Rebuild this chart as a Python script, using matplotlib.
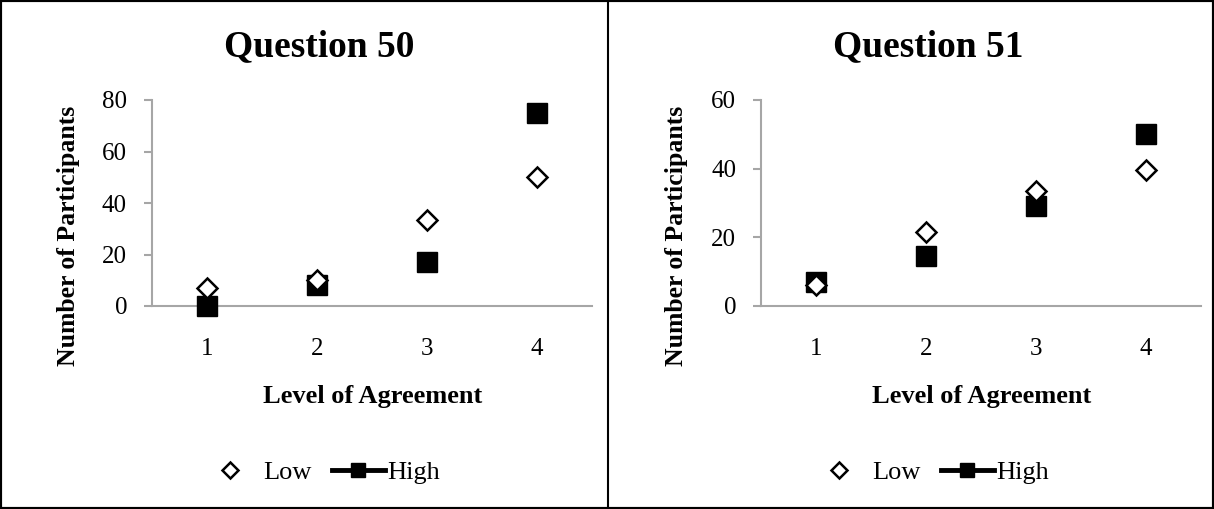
import matplotlib
matplotlib.use("Agg")
import matplotlib.pyplot as plt
from matplotlib.lines import Line2D
from matplotlib.patches import Rectangle

plt.rcParams['font.family'] = ['Liberation Serif', 'DejaVu Serif']

categories = [1, 2, 3, 4]
titles = ["Question 50", "Question 51"]
q50_low = [7, 10, 33.5, 50]
q50_high = [0, 8, 17, 75]
q51_low = [6, 21.5, 33.5, 39.5]
q51_high = [7, 14.5, 29, 50]
y_ticks_50 = [0, 20, 40, 60, 80]
y_ticks_51 = [0, 20, 40, 60]
xlabel = "Level of Agreement"
ylabel = "Number of Participants"
series_names = ["Low", "High"]

W, H = 1214, 509
fig = plt.figure(figsize=(W / 100, H / 100), dpi=100)

gray = '#A6A6A6'

def fx(px):
    return px / W

def fy(py):
    return 1 - py / H

def make_panel(off, title, low, high, yticks):
    left_px = 152 + off
    ax = fig.add_axes([fx(left_px), fy(306), 440 / W, 206 / H])
    ax.plot(categories, low, linestyle='none', marker='D', markersize=10,
            markerfacecolor='white', markeredgecolor='black', markeredgewidth=1.8,
            zorder=5, clip_on=False)
    ax.plot(categories, high, linestyle='none', marker='s', markersize=14,
            markerfacecolor='black', markeredgecolor='black', zorder=4,
            clip_on=False)
    ax.set_xlim(0.5, 4.5)
    ax.set_ylim(yticks[0], yticks[-1])
    ax.set_yticks(yticks)
    ax.set_xticks(categories)
    ax.set_xticklabels([str(c) for c in categories])
    for s in ['top', 'right']:
        ax.spines[s].set_visible(False)
    for s in ['left', 'bottom']:
        ax.spines[s].set_color(gray)
        ax.spines[s].set_linewidth(1.5)
        ax.spines[s].set_zorder(1)
    ax.tick_params(axis='y', direction='out', length=6, width=1.5, color=gray,
                   labelsize=18, pad=12)
    ax.tick_params(axis='x', length=0, labelsize=18, pad=23)
    ax.patch.set_visible(False)
    fig.text(fx(372.5 + off), fy(397), xlabel, fontsize=19, fontweight='bold',
             ha='center', va='center')
    fig.text(fx(68 + off), fy(235.5), ylabel, fontsize=18.5, fontweight='bold',
             ha='center', va='center', rotation=90)
    fig.text(fx(319 + off), fy(47), title, fontsize=27, fontweight='bold',
             ha='center', va='center')
    h_low = Line2D([], [], linestyle='none', marker='D', markersize=8,
                   markerfacecolor='white', markeredgecolor='black',
                   markeredgewidth=1.8)
    h_high = Line2D([], [], color='black', linewidth=3.5, marker='s',
                    markersize=10, markerfacecolor='black')
    fig.legend([h_low], [series_names[0]], loc='center left',
               bbox_to_anchor=(fx(203.5 + off), fy(472)), frameon=False,
               fontsize=19, handlelength=2.0, handletextpad=0.25,
               borderpad=0, borderaxespad=0)
    fig.legend([h_high], [series_names[1]], loc='center left',
               bbox_to_anchor=(fx(332 + off), fy(472)), frameon=False,
               fontsize=19, handlelength=2.0, handletextpad=0.08,
               borderpad=0, borderaxespad=0)
    return ax

make_panel(0, titles[0], q50_low, q50_high, y_ticks_50)
make_panel(609, titles[1], q51_low, q51_high, y_ticks_51)

# outer frame and divider
fig.add_artist(Rectangle((0, 0), 1, 1, transform=fig.transFigure, fill=False,
                         edgecolor='black', linewidth=3))
fig.add_artist(Line2D([608 / W, 608 / W], [0, 1], transform=fig.transFigure,
                      color='black', linewidth=1.5))

fig.savefig('out.png', dpi=100)
